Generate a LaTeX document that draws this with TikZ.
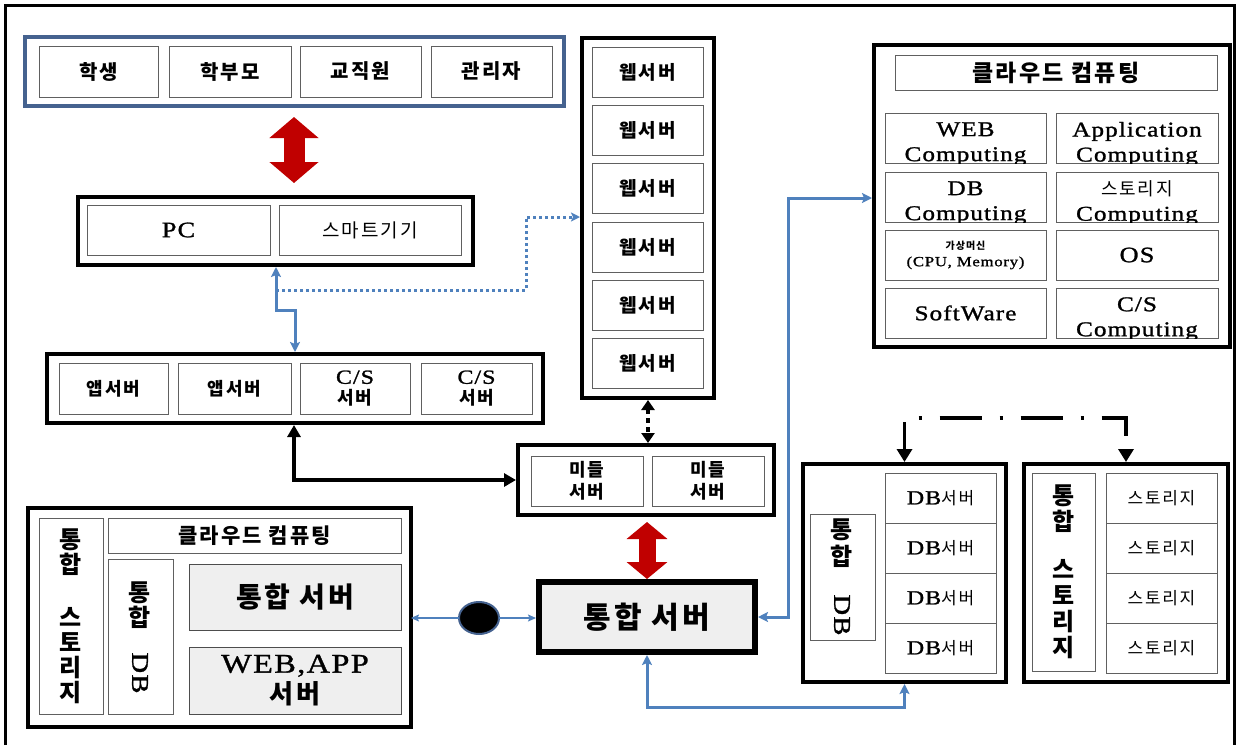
\documentclass[tikz,border=0pt]{standalone}
\usepackage{fontspec}
\usepackage{graphicx}
\setmainfont{Liberation Serif}[FakeStretch=1.2,LetterSpace=5.0,FakeBold=1.2]
\newfontfamily\kr{Noto Sans CJK KR}[LetterSpace=10.0]
\usetikzlibrary{arrows.meta,shapes.geometric}
\definecolor{cblue}{HTML}{4F81BD}
\definecolor{ublue}{HTML}{45628F}
\definecolor{cgray}{HTML}{606060}
\definecolor{fgray}{HTML}{EFEFEF}
\definecolor{dred}{HTML}{C00000}
\newcommand\KB[2]{\kr\bfseries\fontsize{#1}{#2}\selectfont}
\newcommand\KR[2]{\kr\fontsize{#1}{#2}\selectfont}
\newcommand\LT[2]{\rmfamily\fontsize{#1}{#2}\selectfont}
\newcommand\bx[7]{\node[#1, minimum width={(#4)-(#2)}, minimum height={(#5)-(#3)}] (#6) at ({((#2)+(#4))/2},{((#3)+(#5))/2}) {#7};}
\newcommand\ccell[6]{\bx{cell}{#2}{#3}{#4}{#5}{#1}{}\begin{scope}\clip (#1.south west) rectangle (#1.north east);\node[align=center,font=\LT{21}{25}] (#1t) at ([yshift=-6pt]#1.center) {#6};\end{scope}}
\tikzset{
  every node/.style={inner sep=0pt, outer sep=0pt},
  obox/.style={draw=black, line width=4.5pt, fill=white},
  ubox/.style={draw=ublue, line width=4pt, fill=white},
  cell/.style={draw=cgray, line width=0.9pt, fill=white, align=center},
  gcell/.style={cell, fill=fgray, draw=cgray!80!black},
  redarrA/.style={draw=dred, line width=21pt, {Triangle[length=21pt,width=48pt]}-{Triangle[length=21pt,width=48pt]}},
  redarrB/.style={draw=dred, line width=17pt, {Triangle[length=17pt,width=40pt]}-{Triangle[length=17pt,width=40pt]}},
  bluearr/.style={draw=cblue, line width=3pt, {Stealth[length=10pt,width=10pt,inset=2pt]}-{Stealth[length=10pt,width=10pt,inset=2pt]}, shorten <=2pt, shorten >=2pt},
  bluedot/.style={draw=cblue, line width=3pt, dash pattern=on 3pt off 3pt, -{Stealth[length=9pt,width=9pt,inset=2pt]}, shorten >=2pt},
  thinblue/.style={draw=cblue, line width=1.3pt, -{Stealth[length=8pt,width=7pt,inset=1.5pt]}},
  blackarr/.style={draw=black, line width=3.5pt, {Triangle[length=12pt,width=13pt]}-{Triangle[length=12pt,width=13pt]}, shorten <=2pt, shorten >=2pt},
  blackdot/.style={draw=black, line width=4pt, dash pattern=on 5pt off 4pt, {Triangle[length=10pt,width=13pt]}-{Triangle[length=10pt,width=13pt]}, shorten <=2pt, shorten >=2pt},
  dashdot/.style={draw=black, line width=3.5pt, dash pattern=on 42pt off 18pt on 3pt off 18pt, dash phase=14pt, {Triangle[length=13pt,width=15pt]}-{Triangle[length=13pt,width=15pt]}, shorten <=2pt, shorten >=2pt},
}
\begin{document}
\begin{tikzpicture}[x=1pt,y=-1pt]
\useasboundingbox (0,0) rectangle (1237,745);
\fill[white] (0,0) rectangle (1237,745);
\draw[line width=3pt] (5,745) -- (5,5) -- (1234,5) -- (1234,745);

% users
\bx{ubox}{25}{37}{564}{106}{users}{}
\bx{cell,font=\KB{20}{22}}{39}{46}{158}{97}{u1}{학생}
\bx{cell,font=\KB{20}{22}}{169}{46}{291}{97}{u2}{학부모}
\bx{cell,font=\KB{20}{22}}{300}{46}{421}{97}{u3}{교직원}
\bx{cell,font=\KB{20}{22}}{431}{46}{552}{97}{u4}{관리자}

% PC box
\bx{obox}{78}{197}{473}{265}{pcbox}{}
\bx{cell,font=\LT{22}{24}}{87}{205}{270}{255}{pc}{PC}
\bx{cell,font=\KR{19}{22}}{279}{205}{461}{255}{smart}{스마트기기}

% app servers
\bx{obox}{47}{354}{543}{423}{appbox}{}
\bx{cell,font=\KB{18}{21}}{59}{363}{168}{414}{a1}{앱서버}
\bx{cell,font=\KB{18}{21}}{178}{363}{291}{414}{a2}{앱서버}
\bx{cell,font=\LT{20}{21}}{300}{363}{410}{414}{a3}{C/S\\{\KB{18}{21}서버}}
\bx{cell,font=\LT{20}{21}}{421}{363}{532}{414}{a4}{C/S\\{\KB{18}{21}서버}}

% web servers
\bx{obox}{582}{38}{714}{398}{webcol}{}
\bx{cell,font=\KB{19}{22}}{592}{47}{703}{97}{w1}{웹서버}
\bx{cell,font=\KB{19}{22}}{592}{105}{703}{155}{w2}{웹서버}
\bx{cell,font=\KB{19}{22}}{592}{163}{703}{213}{w3}{웹서버}
\bx{cell,font=\KB{19}{22}}{592}{222}{703}{272}{w4}{웹서버}
\bx{cell,font=\KB{19}{22}}{592}{280}{703}{330}{w5}{웹서버}
\bx{cell,font=\KB{19}{22}}{592}{338}{703}{388}{w6}{웹서버}

% middle servers
\bx{obox}{518}{445}{774}{515}{midbox}{}
\bx{cell,font=\KB{18}{22}}{531}{456}{643}{506}{m1}{미들\\서버}
\bx{cell,font=\KB{18}{22}}{652}{456}{764}{506}{m2}{미들\\서버}

% integrated server
\bx{obox,line width=6.5pt,fill=fgray,font=\KB{30}{32}}{539}{582}{755}{652}{isrv}{통합 서버}

% cloud computing
\bx{obox,line width=4pt}{874}{45}{1230}{347}{cloud}{}
\bx{cell,font=\KB{23}{25}}{895}{55}{1217}{90}{ctitle}{클라우드 컴퓨팅}
\ccell{c1}{885}{113}{1046}{163}{WEB\\Computing}
\ccell{c2}{1056}{113}{1218}{163}{Application\\Computing}
\ccell{c3}{885}{172}{1046}{222}{DB\\Computing}
\ccell{c4}{1056}{172}{1218}{222}{{\KR{18}{25}스토리지}\\Computing}
\bx{cell,font=\LT{14}{17}}{885}{230}{1046}{280}{c5}{{\KB{10}{12}가상머신}\\(CPU, Memory)}
\bx{cell,font=\LT{22}{24}}{1056}{230}{1218}{280}{c6}{OS}
\bx{cell,font=\LT{21}{24}}{885}{288}{1046}{338}{c7}{SoftWare}
\ccell{c8}{1056}{288}{1218}{338}{C/S\\Computing}

% DB box
\bx{obox,line width=4pt}{803}{464}{1006}{682}{dbbox}{}
\bx{cell}{810}{514}{875}{640}{dblab}{}
\node[font=\KB{24}{27},align=center] (dblab1) at (842,543) {통\\합};
\node[font=\LT{24}{26},rotate=-90] (dblab2) at (842,615) {DB};
\bx{cell,font=\LT{20}{22}}{885}{473}{996}{523}{d1}{DB{\KR{17}{22}서버}}
\bx{cell,font=\LT{20}{22}}{885}{523}{996}{573}{d2}{DB{\KR{17}{22}서버}}
\bx{cell,font=\LT{20}{22}}{885}{573}{996}{623}{d3}{DB{\KR{17}{22}서버}}
\bx{cell,font=\LT{20}{22}}{885}{623}{996}{673}{d4}{DB{\KR{17}{22}서버}}

% storage box
\bx{obox,line width=4pt}{1024}{464}{1228}{682}{stbox}{}
\bx{cell,font=\KB{24}{26}}{1032}{473}{1095}{671}{stlab}{통\\합\\[22pt]스\\토\\리\\지}
\bx{cell,font=\KR{17}{20}}{1106}{473}{1217}{523}{s1}{스토리지}
\bx{cell,font=\KR{17}{20}}{1106}{523}{1217}{573}{s2}{스토리지}
\bx{cell,font=\KR{17}{20}}{1106}{573}{1217}{623}{s3}{스토리지}
\bx{cell,font=\KR{17}{20}}{1106}{623}{1217}{673}{s4}{스토리지}

% bottom-left box
\bx{obox,line width=4pt}{28}{508}{411}{727}{blbox}{}
\bx{cell,font=\KB{24}{25}}{39}{518}{103}{714}{bllab}{통\\합\\[28pt]스\\토\\리\\지}
\bx{cell,font=\KB{21}{23}}{108}{518}{401}{553}{bltitle}{클라우드 컴퓨팅}
\bx{cell}{108}{559}{173}{714}{bldb}{}
\node[font=\KB{24}{25},align=center] (bldb1) at (140,605) {통\\합};
\node[font=\LT{24}{26},rotate=-90] (bldb2) at (140,673) {DB};
\bx{gcell,font=\KB{28}{30}}{189}{564}{401}{630}{blsrv}{통합 서버}
\bx{gcell,font=\LT{27}{31}}{189}{647}{401}{714}{blweb}{WEB,APP\\{\KB{26}{31}서버}}

% dot
\node[ellipse, fill=black, draw=ublue, line width=2pt, minimum width=40pt, minimum height=32pt] (dot) at (479,618) {};

% red arrows
\coordinate (rx1) at (294,0);
\coordinate (rx2) at (647,0);
\draw[redarrA, shorten <=11pt, shorten >=14pt] (users.south -| rx1) -- (pcbox.north -| rx1);
\draw[redarrB, shorten <=7pt, shorten >=3pt] (midbox.south -| rx2) -- (isrv.north -| rx2);

% connectors
\draw[thinblue] (dot.west) -- (blbox.east |- dot.west);
\draw[thinblue, shorten >=3pt] (dot.east) -- (isrv.west |- dot.east);
\coordinate (vb) at (788,198);
\draw[bluearr, shorten <=3pt] (isrv.east) -| (vb) -- (vb -| cloud.west);
\coordinate (zz1) at (276,310);
\coordinate (zz2) at (295,310);
\draw[bluearr] (pcbox.south -| zz1) -- (zz1) -- (zz2) -- (appbox.north -| zz2);
\coordinate (dj) at (276,290);
\coordinate (dk) at (526,217);
\draw[bluedot] (dj) -| (dk) -- (dk -| webcol.west);
\coordinate (bk) at (294,480);
\draw[blackarr] (appbox.south -| bk) |- (midbox.west);
\draw[blackdot] (webcol.south) -- (webcol.south |- midbox.north);
\draw[bluearr, shorten <=3pt] (isrv.south) -- ++(0,55) -| (dbbox.south);
\coordinate (dd) at (0,418);
\draw[dashdot] (dbbox.north) -- (dbbox.north |- dd) -| (stbox.north);
\end{tikzpicture}
\end{document}
